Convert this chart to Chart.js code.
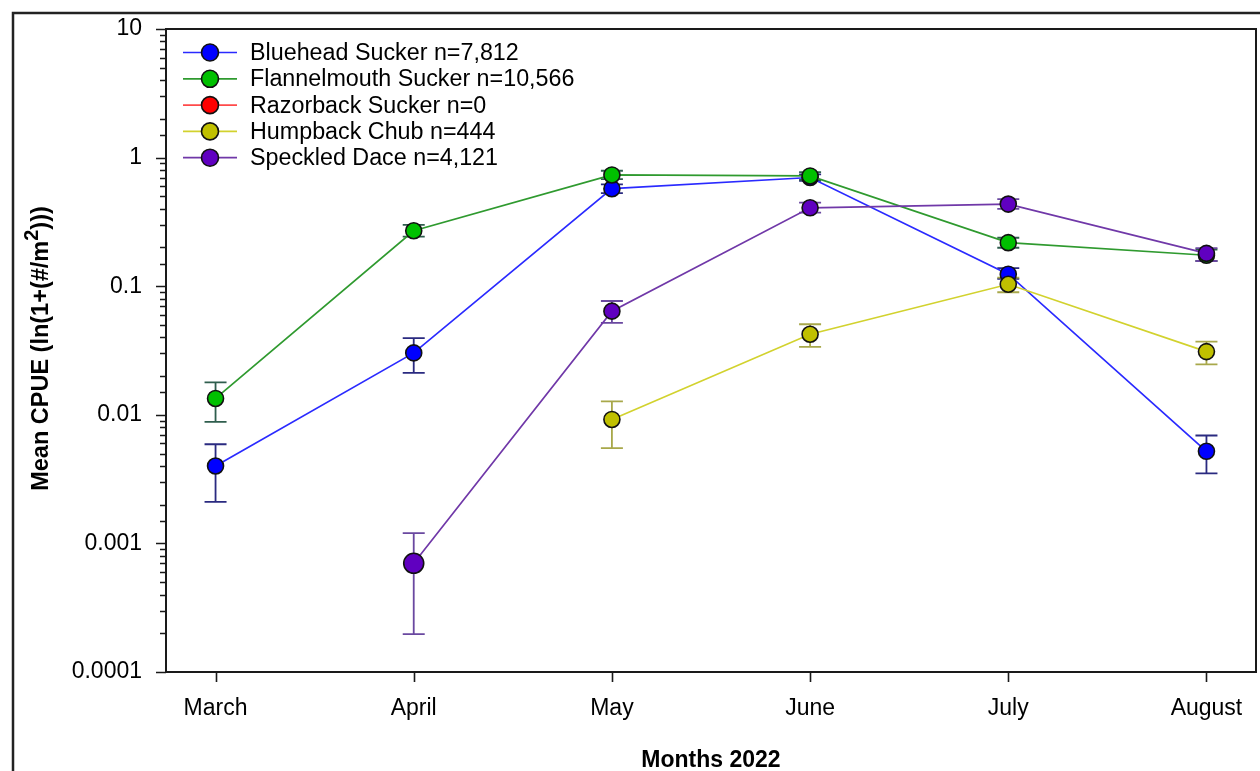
<!DOCTYPE html>
<html><head><meta charset="utf-8">
<script src="https://cdn.jsdelivr.net/npm/chart.js@4"></script>
<style>html,body{margin:0;padding:0;background:#fff;}canvas{display:block;}</style>
</head><body>
<canvas id="c" width="1260" height="771"></canvas>
<script>
// ---------- DATA ----------
const months = ['March', 'April', 'May', 'June', 'July', 'August'];
const seriesNames = ['Bluehead Sucker n=7,812', 'Flannelmouth Sucker n=10,566', 'Razorback Sucker n=0', 'Humpback Chub n=444', 'Speckled Dace n=4,121'];
const yTickLabels = ['0.0001', '0.001', '0.01', '0.1', '1', '10'];

const bluehead      = [0.0040, 0.0303, 0.573, 0.70, 0.124, 0.0052];
const blueheadLow   = [0.0021, 0.0212, 0.53, 0.66, 0.114, 0.0035];
const blueheadHigh  = [0.0059, 0.0395, 0.62, 0.74, 0.138, 0.0069];

const flannel       = [0.0134, 0.270, 0.733, 0.72, 0.218, 0.174];
const flannelLow    = [0.0088, 0.243, 0.68, 0.67, 0.199, 0.157];
const flannelHigh   = [0.0179, 0.300, 0.79, 0.77, 0.238, 0.193];

const razorback     = [null, null, null, null, null, null];
const razorbackLow  = [null, null, null, null, null, null];
const razorbackHigh = [null, null, null, null, null, null];

const humpback      = [null, null, 0.0092, 0.0423, 0.1035, 0.031];
const humpbackLow   = [null, null, 0.0055, 0.0338, 0.0897, 0.0247];
const humpbackHigh  = [null, null, 0.0127, 0.0506, 0.1164, 0.0371];

const dace          = [null, 0.0007, 0.064, 0.407, 0.435, 0.180];
const daceLow       = [null, 0.000197, 0.0518, 0.373, 0.400, 0.157];
const daceHigh      = [null, 0.0012, 0.0767, 0.446, 0.475, 0.198];

// ---------- STYLES ----------
const lineColors   = ['#2a2aff', '#2f9a2f', '#ff4a4a', '#d2d22e', '#7038a8'];
const markerColors = ['#0000ff', '#00c000', '#ff0000', '#c0c000', '#6000c0'];
const errColors    = ['#2a2a80', '#2f5e4e', '#a03030', '#a8a84a', '#6a48a0'];
const values = [bluehead, flannel, razorback, humpback, dace];
const lows = [blueheadLow, flannelLow, razorbackLow, humpbackLow, daceLow];
const highs = [blueheadHigh, flannelHigh, razorbackHigh, humpbackHigh, daceHigh];
const FONT = '"Liberation Sans", Arial, sans-serif';

const datasets = values.map((v, i) => ({
  label: seriesNames[i],
  data: v.map((y, j) => ({x: j, y: y})),
  borderColor: lineColors[i],
  borderWidth: 1.7,
  backgroundColor: markerColors[i],
  pointBackgroundColor: markerColors[i],
  pointBorderColor: '#111',
  pointBorderWidth: 1.6,
  pointRadius: i === 4 ? [8, 10, 8, 8, 8, 8] : 8,
  spanGaps: false,
  tension: 0,
  order: 5 - i,
  clip: false
}));

const isMajor = v => Math.abs(Math.log10(v) - Math.round(Math.log10(v))) < 1e-6;

const drawPlugin = {
  id: 'custom',
  beforeDatasetsDraw(chart) {
    const ctx = chart.ctx, xs = chart.scales.x, ys = chart.scales.y;
    ctx.save();
    lows.forEach((lo, i) => {
      ctx.strokeStyle = errColors[i];
      ctx.lineWidth = 1.8;
      lo.forEach((l, j) => {
        const h = highs[i][j];
        if (l == null || h == null) return;
        const x = xs.getPixelForValue(j);
        const y1 = ys.getPixelForValue(l), y2 = ys.getPixelForValue(h);
        ctx.beginPath();
        ctx.moveTo(x, y1); ctx.lineTo(x, y2);
        ctx.moveTo(x - 11, y1); ctx.lineTo(x + 11, y1);
        ctx.moveTo(x - 11, y2); ctx.lineTo(x + 11, y2);
        ctx.stroke();
      });
    });
    ctx.restore();
  },
  afterDraw(chart) {
    const ctx = chart.ctx, a = chart.chartArea, xs = chart.scales.x, ys = chart.scales.y;
    ctx.save();
    // outer border
    ctx.strokeStyle = '#222';
    ctx.lineWidth = 2.5;
    ctx.beginPath();
    ctx.moveTo(13, 771); ctx.lineTo(13, 13); ctx.lineTo(1260, 13);
    ctx.stroke();
    // plot frame
    ctx.lineWidth = 2;
    ctx.strokeStyle = '#1a1a1a';
    ctx.strokeRect(a.left, a.top, a.right - a.left, a.bottom - a.top);
    // y ticks
    ctx.lineWidth = 1.6;
    ctx.beginPath();
    ys.ticks.forEach(t => {
      const y = Math.round(ys.getPixelForValue(t.value)) + 0.5;
      const len = isMajor(t.value) ? 10 : 6;
      ctx.moveTo(a.left, y); ctx.lineTo(a.left - len, y);
    });
    // x ticks
    xs.ticks.forEach(t => {
      const x = Math.round(xs.getPixelForValue(t.value)) + 0.5;
      ctx.moveTo(x, a.bottom); ctx.lineTo(x, a.bottom + 10);
    });
    ctx.stroke();
    // x title
    ctx.fillStyle = '#000';
    ctx.font = 'bold 23px ' + FONT;
    ctx.textAlign = 'center';
    ctx.textBaseline = 'middle';
    ctx.fillText('Months 2022', (a.left + a.right) / 2, 761);
    // y title with superscript
    ctx.save();
    ctx.translate(42, (a.top + a.bottom) / 2 - 2);
    ctx.rotate(-Math.PI / 2);
    const p1 = 'Mean CPUE (ln(1+(#/m', sup = '2', p2 = ')))';
    ctx.font = 'bold 23.5px ' + FONT;
    const w1 = ctx.measureText(p1).width, w3 = ctx.measureText(p2).width;
    ctx.font = 'bold 20px ' + FONT;
    const w2 = ctx.measureText(sup).width;
    let sx = -(w1 + w2 + w3) / 2;
    ctx.textAlign = 'left';
    ctx.textBaseline = 'middle';
    ctx.font = 'bold 23.5px ' + FONT;
    ctx.fillText(p1, sx, 0);
    ctx.font = 'bold 20px ' + FONT;
    ctx.fillText(sup, sx + w1, -10);
    ctx.font = 'bold 23.5px ' + FONT;
    ctx.fillText(p2, sx + w1 + w2, 0);
    ctx.restore();
    // legend
    ctx.font = '23.3px ' + FONT;
    ctx.textAlign = 'left';
    ctx.textBaseline = 'middle';
    seriesNames.forEach((name, i) => {
      const y = 52.5 + i * 26.3;
      ctx.strokeStyle = lineColors[i];
      ctx.lineWidth = 1.7;
      ctx.beginPath(); ctx.moveTo(183, y); ctx.lineTo(237, y); ctx.stroke();
      ctx.beginPath(); ctx.arc(210, y, 8.5, 0, Math.PI * 2);
      ctx.fillStyle = markerColors[i]; ctx.fill();
      ctx.strokeStyle = '#111'; ctx.lineWidth = 1.6; ctx.stroke();
      ctx.fillStyle = '#000';
      ctx.fillText(name, 250, y + 1);
    });
    ctx.restore();
  }
};

new Chart(document.getElementById('c'), {
  type: 'line',
  data: { datasets: datasets },
  options: {
    responsive: false,
    animation: false,
    devicePixelRatio: 1,
    layout: { autoPadding: false, padding: { left: 0, right: 4, top: 29, bottom: 0 } },
    plugins: { legend: { display: false }, tooltip: { enabled: false } },
    scales: {
      x: {
        type: 'linear', min: -0.25, max: 5.25,
        afterBuildTicks: s => { s.ticks = months.map((m, i) => ({ value: i })); },
        afterFit: s => { s.height = 99; s.paddingLeft = 0; s.paddingRight = 0; },
        grid: { display: false, drawTicks: false },
        border: { display: false },
        ticks: {
          autoSkip: false, maxRotation: 0, padding: 23, color: '#000',
          font: { size: 23, family: FONT },
          callback: v => months[v] ?? ''
        }
      },
      y: {
        type: 'logarithmic', min: 0.0001, max: 10,
        afterFit: s => { s.width = 166; s.paddingTop = 0; s.paddingBottom = 0; },
        grid: { display: false, drawTicks: false },
        border: { display: false },
        ticks: {
          autoSkip: false, padding: 24, color: '#000',
          font: { size: 23, family: FONT },
          callback: v => isMajor(v) ? yTickLabels[Math.round(Math.log10(v)) + 4] : ''
        }
      }
    }
  },
  plugins: [drawPlugin]
});
</script>
</body></html>
